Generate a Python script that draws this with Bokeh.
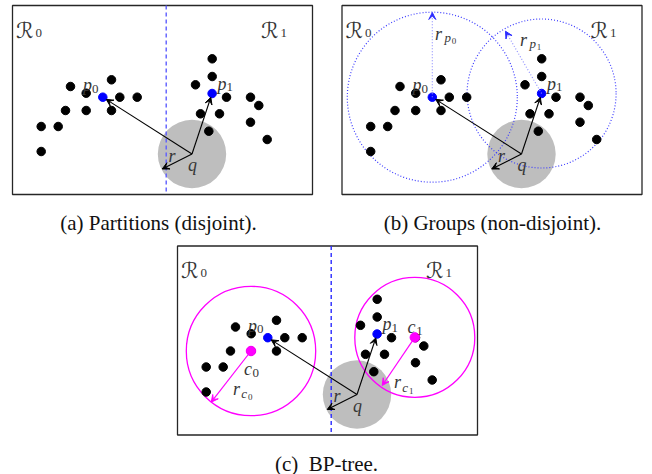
import math
from bokeh.plotting import figure
from bokeh.models import Range1d, Arrow, VeeHead, ColumnDataSource
from bokeh.core.properties import value
from bokeh.embed import file_html
from bokeh.resources import INLINE

# ---------------- data (panel (a) coordinates, reference pixel units) ----------------
left_x = [111.0, 70.0, 85.7, 119.3, 136.7, 65.0, 85.7, 111.0, 40.7, 57.7, 40.7]
left_y = [79.3, 86.0, 92.7, 96.7, 96.7, 110.0, 110.0, 110.0, 126.0, 126.0, 151.0]
right_x = [211.7, 211.7, 195.0, 226.0, 250.0, 258.3, 200.0, 219.0, 250.0, 208.3, 266.7]
right_y = [58.3, 76.0, 84.3, 96.7, 96.7, 105.0, 113.3, 113.3, 121.7, 130.7, 139.0]
pivot_x = [102.3, 211.6]          # p0, p1
pivot_y = [96.7, 93.0]
query_x, query_y, query_r = 191.5, 153.5, 34.2
query_r_end = (161.7, 168.5)
group_r = [85.0, 74.5]            # r_p0, r_p1
group_r_end_x = [102.3, 175.5]
group_r_end_y = [12.0, 30.7]
center_x = [85.5, 249.3]          # c0, c1
center_y = [110.0, 96.4]
center_r = [64.7, 60.0]
center_r_end_x = [45.7, 216.7]
center_r_end_y = [161.2, 144.5]
box = (12.0, 5.0, 312.0, 194.0)   # left, top, right, bottom
split_x = 165.7
panel_dx = [0.0, 329.5, 165.0]
panel_dy = [0.0, 0.0, 240.5]
captions = ["(a) Partitions (disjoint).", "(b) Groups (non-disjoint).", "(c)\u00a0 BP-tree."]
caption_x = [158.0, 492.0, 326.0]
caption_y = [222.0, 222.0, 463.0]

# labels: (text, x, y, size, italic) in panel coordinates
common_labels = [
    ("\u211b", 15.5, 29.5, 22, False), ("0", 35.0, 32.0, 13, False),
    ("\u211b", 260.5, 29.5, 22, False), ("1", 280.0, 32.0, 13, False),
    ("p", 82.5, 84.5, 18, True), ("0", 91.5, 88.0, 13, False),
    ("p", 217.0, 83.0, 18, True), ("1", 226.0, 86.5, 13, False),
    ("q", 187.5, 164.5, 18, True),
    ("r", 168.0, 155.0, 18, True),
]
group_labels = [
    ("r", 105.0, 33.0, 18, True), ("p", 114.5, 37.0, 13, True), ("0", 121.8, 40.0, 9, False),
    ("r", 190.0, 39.0, 18, True), ("p", 199.5, 43.0, 13, True), ("1", 206.8, 46.0, 9, False),
]
center_labels = [
    ("c", 78.5, 127.5, 18, True), ("0", 87.0, 131.5, 13, False),
    ("r", 67.5, 147.5, 18, True), ("c", 75.7, 152.5, 13, True), ("0", 82.5, 155.5, 9, False),
    ("c", 242.0, 86.0, 18, True), ("1", 250.7, 90.0, 13, False),
    ("r", 228.5, 141.2, 18, True), ("c", 236.7, 146.5, 13, True), ("1", 243.5, 149.5, 9, False),
]

# ---------------- figure ----------------
W, H = 652, 474
p = figure(width=W, height=H, x_range=Range1d(0, W), y_range=Range1d(H, 0),
           output_backend="svg", toolbar_location=None, min_border=0,
           x_axis_location=None, y_axis_location=None)
p.grid.visible = False
p.outline_line_color = None
p.background_fill_color = "white"
p.border_fill_color = "white"

TXT = "#363636"
DOT = 8.5


def sh(xs, k):
    return [x + panel_dx[k] for x in xs]


def shy(ys, k):
    return [y + panel_dy[k] for y in ys]


def shorten(x0, y0, x1, y1, d):
    L = math.hypot(x1 - x0, y1 - y0)
    return x1 - (x1 - x0) * d / L, y1 - (y1 - y0) * d / L


def draw_labels(labels, k):
    groups = {}
    for t, x, y, s, it in labels:
        groups.setdefault((s, it), []).append((t, x + panel_dx[k], y + panel_dy[k]))
    for (s, it), items in groups.items():
        font = "Liberation Serif"
        style = "italic" if it else "normal"
        if any(t == "\u211b" for t, _, _ in items):
            font = "DejaVu Sans"
        p.text(x=[i[1] for i in items], y=[i[2] for i in items], text=[i[0] for i in items],
               text_font=value(font), text_font_size=f"{s}px",
               text_font_style=style,
               text_color=TXT, text_baseline="alphabetic", text_align="left")


for k in range(3):
    dx, dy = panel_dx[k], panel_dy[k]
    # frame
    p.quad(left=[box[0] + dx], right=[box[2] + dx], top=[box[1] + dy], bottom=[box[3] + dy],
           fill_color=None, line_color="#262626", line_width=1.3)
    # query ball
    p.circle(x=[query_x + dx], y=[query_y + dy], radius=query_r,
             fill_color="#bebebe", line_color=None)
    # split line
    if k in (0, 2):
        p.segment(x0=[split_x + dx], y0=[box[1] + dy], x1=[split_x + dx], y1=[box[3] + dy],
                  line_color="#5c5cff" if k == 0 else "#2a2aff", line_width=1.4, line_dash="4 3")
    # group balls (b)
    if k == 1:
        p.circle(x=sh(pivot_x, k), y=shy(pivot_y, k), radius=group_r,
                 fill_color=None, line_color="#3b3bff", line_width=1.2, line_dash="1 2")
        src = ColumnDataSource(dict(xs=sh(pivot_x, k), ys=shy(pivot_y, k),
                                    xe=sh(group_r_end_x, k), ye=shy(group_r_end_y, k)))
        p.add_layout(Arrow(end=VeeHead(size=7, fill_color="#2b2bff", line_color="#2b2bff"),
                           x_start="xs", y_start="ys", x_end="xe", y_end="ye", source=src,
                           line_color="#8a8aff", line_width=1.1, line_dash="1 2"))
    # center balls (c)
    if k == 2:
        p.circle(x=sh(center_x, k), y=shy(center_y, k), radius=center_r,
                 fill_color=None, line_color="#ff00ff", line_width=1.3)
    # points
    p.scatter(x=sh(left_x + right_x, k), y=shy(left_y + right_y, k), size=DOT,
              fill_color="black", line_color="black")
    p.scatter(x=sh(pivot_x, k), y=shy(pivot_y, k), size=DOT,
              fill_color="#0000ff", line_color="#0000ff")
    if k == 2:
        p.scatter(x=sh(center_x, k), y=shy(center_y, k), size=DOT + 1,
                  fill_color="#ff00ff", line_color="#ff00ff")
        src = ColumnDataSource(dict(xs=sh(center_x, k), ys=shy(center_y, k),
                                    xe=sh(center_r_end_x, k), ye=shy(center_r_end_y, k)))
        p.add_layout(Arrow(end=VeeHead(size=7, fill_color="#ff00ff", line_color="#ff00ff"),
                           x_start="xs", y_start="ys", x_end="xe", y_end="ye", source=src,
                           line_color="#ff00ff", line_width=1.2))
    # query arrows
    qx, qy = query_x + dx, query_y + dy
    xe, ye = [], []
    for px_, py_ in zip(sh(pivot_x, k), shy(pivot_y, k)):
        ex, ey = shorten(qx, qy, px_, py_, 4.0)
        xe.append(ex)
        ye.append(ey)
    xe.append(query_r_end[0] + dx)
    ye.append(query_r_end[1] + dy)
    src = ColumnDataSource(dict(xs=[qx] * 3, ys=[qy] * 3, xe=xe, ye=ye))
    p.add_layout(Arrow(end=VeeHead(size=7, fill_color="black", line_color="black"),
                       x_start="xs", y_start="ys", x_end="xe", y_end="ye", source=src,
                       line_color="black", line_width=1.1))
    # labels
    draw_labels(common_labels, k)
    if k == 1:
        draw_labels(group_labels, k)
    if k == 2:
        draw_labels(center_labels, k)

p.text(x=caption_x, y=caption_y, text=captions, text_font=value("Liberation Serif"),
       text_font_size="21px", text_color="#111111", text_baseline="alphabetic",
       text_align="center")

open("out.html", "w").write(file_html(p, INLINE))
